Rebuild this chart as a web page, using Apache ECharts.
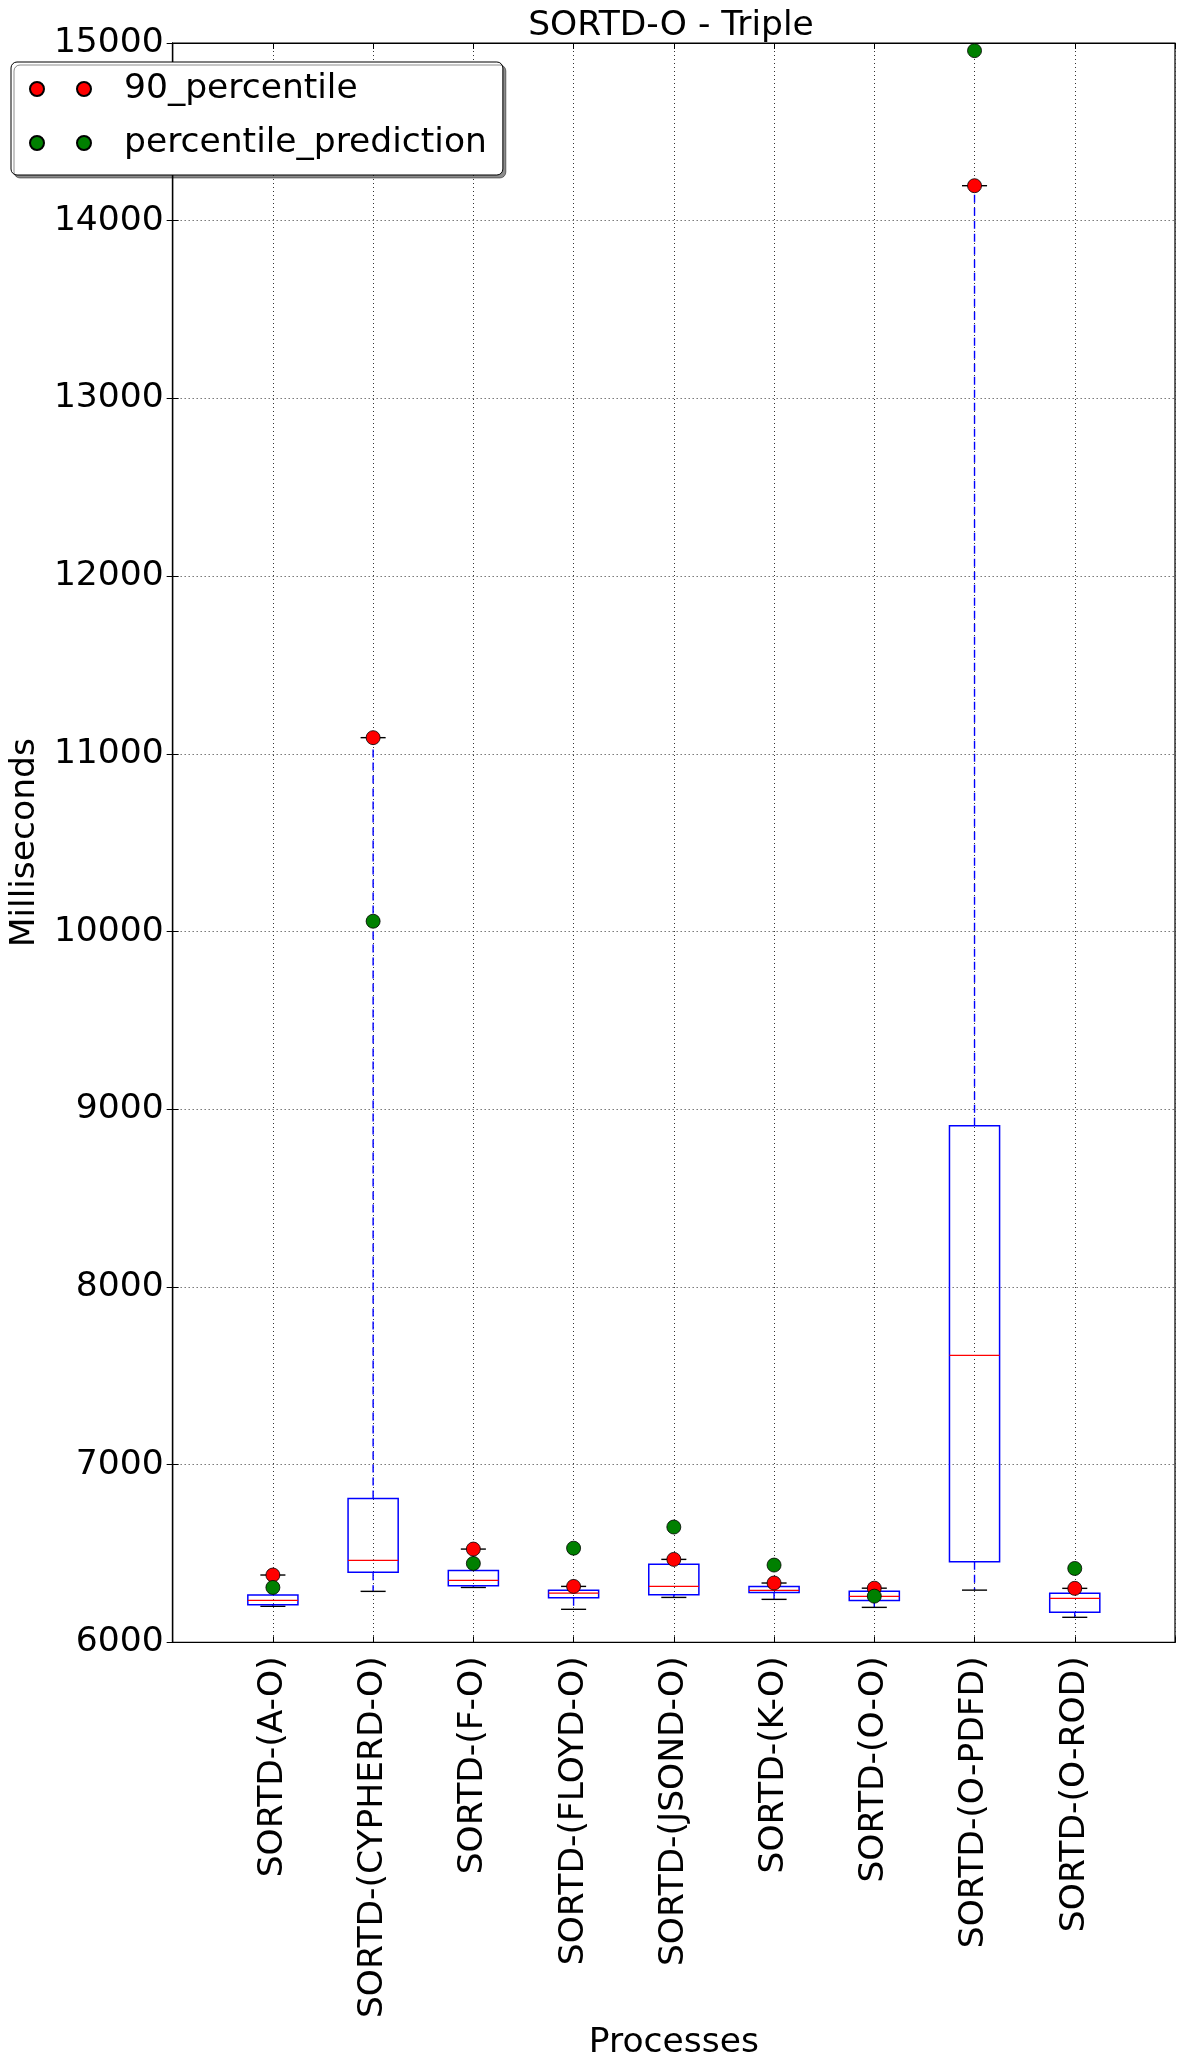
<!DOCTYPE html>
<html>
<head>
<meta charset="utf-8">
<script src="https://cdn.jsdelivr.net/npm/echarts@6/dist/echarts.min.js"></script>
<style>
html,body{margin:0;padding:0;background:#fff;}
#chart{width:1184px;height:2066px;}
</style>
</head>
<body>
<div id="chart"></div>
<script>
const categories = ['SORTD-(A-O)', 'SORTD-(CYPHERD-O)', 'SORTD-(F-O)', 'SORTD-(FLOYD-O)', 'SORTD-(JSOND-O)', 'SORTD-(K-O)', 'SORTD-(O-O)', 'SORTD-(O-PDFD)', 'SORTD-(O-ROD)'];
const whiskerLow = [6203, 6287, 6309, 6186, 6253, 6242, 6197, 6294, 6141];
const q1 = [6212, 6394, 6318, 6251, 6268, 6281, 6236, 6453, 6169];
const median = [6236, 6461, 6349, 6277, 6315, 6293, 6259, 7615, 6248];
const q3 = [6266, 6810, 6405, 6294, 6440, 6315, 6287, 8907, 6277];
const whiskerHigh = [6379, 11091, 6525, 6315, 6467, 6334, 6305, 14197, 6304];
const percentile90 = [6379, 11091, 6525, 6315, 6467, 6334, 6305, 14197, 6304];
const prediction = [6309, 10058, 6444, 6530, 6649, 6435, 6260, 14957, 6416];
const yTicks = [6000, 7000, 8000, 9000, 10000, 11000, 12000, 13000, 14000, 15000];

const FONT = 'DejaVu Sans';
const FS = 34.5;
const boxData = categories.map((c, i) => [i + 1, whiskerLow[i], q1[i], median[i], q3[i], whiskerHigh[i]]);
const redData = categories.map((c, i) => [i + 1, percentile90[i]]);
const greenData = categories.map((c, i) => [i + 1, prediction[i]]);

const TWO_DOTS = 'path://M0,7a7,7 0 1,0 14,0a7,7 0 1,0 -14,0M47,7a7,7 0 1,0 14,0a7,7 0 1,0 -14,0Z';

function renderBox(params, api) {
  const x = api.value(0);
  const pLow = api.coord([x, api.value(1)]);
  const pQ1 = api.coord([x, api.value(2)]);
  const pMed = api.coord([x, api.value(3)]);
  const pQ3 = api.coord([x, api.value(4)]);
  const pHigh = api.coord([x, api.value(5)]);
  const halfBox = api.size([0.5, 0])[0] / 2;
  const halfCap = api.size([0.25, 0])[0] / 2;
  const cx = pMed[0];
  const blue = '#0000ff';
  const whiskerStyle = {stroke: blue, lineWidth: 1.4, lineDash: [8, 5]};
  return {
    type: 'group',
    children: [
      {type: 'line', shape: {x1: cx, y1: pQ1[1], x2: cx, y2: pLow[1]}, style: whiskerStyle},
      {type: 'line', shape: {x1: cx, y1: pQ3[1], x2: cx, y2: pHigh[1]}, style: whiskerStyle},
      {type: 'line', shape: {x1: cx - halfCap, y1: pLow[1], x2: cx + halfCap, y2: pLow[1]}, style: {stroke: '#000', lineWidth: 1.4}},
      {type: 'line', shape: {x1: cx - halfCap, y1: pHigh[1], x2: cx + halfCap, y2: pHigh[1]}, style: {stroke: '#000', lineWidth: 1.4}},
      {type: 'rect', shape: {x: cx - halfBox, y: pQ3[1], width: halfBox * 2, height: pQ1[1] - pQ3[1]}, style: {fill: 'none', stroke: blue, lineWidth: 1.5}},
      {type: 'line', shape: {x1: cx - halfBox, y1: pMed[1], x2: cx + halfBox, y2: pMed[1]}, style: {stroke: '#ff0000', lineWidth: 1.2}}
    ]
  };
}

const chart = echarts.init(document.getElementById('chart'));
chart.setOption({
  backgroundColor: '#ffffff',
  animation: false,
  textStyle: {fontFamily: FONT},
  title: {
    text: 'SORTD-O - Triple',
    left: 671, top: 9, textAlign: 'center', padding: 0,
    textStyle: {fontFamily: FONT, fontSize: FS, fontWeight: 'normal', color: '#000'}
  },
  legend: {
    orient: 'vertical',
    left: 11, top: 62,
    padding: [7, 16, 12, 18],
    itemGap: 14,
    itemWidth: 61, itemHeight: 14,
    backgroundColor: '#fff',
    borderColor: '#000', borderWidth: 1, borderRadius: 6,
    shadowColor: 'rgba(0,0,0,0.45)', shadowOffsetX: 3, shadowOffsetY: 3, shadowBlur: 0,
    icon: TWO_DOTS,
    textStyle: {fontFamily: FONT, fontSize: FS, color: '#000', lineHeight: 40, padding: [0, 0, 0, 28]},
    data: ['90_percentile', 'percentile_prediction']
  },
  grid: {left: 167, top: 43, width: 1008, height: 1600, show: true, borderColor: '#000', borderWidth: 1.2, containLabel: false},
  xAxis: [{
    type: 'value', min: 0, max: 10, interval: 1,
    name: 'Processes', nameLocation: 'middle', nameGap: 379,
    nameTextStyle: {fontFamily: FONT, fontSize: FS, color: '#000'},
    axisLine: {show: true, lineStyle: {color: '#000', width: 1.2}},
    axisTick: {show: true, inside: true, length: 6, lineStyle: {color: '#000'}},
    axisLabel: {
      show: true, rotate: 90, margin: 14, fontFamily: FONT, fontSize: FS, color: '#000',
      formatter: v => (v >= 1 && v <= categories.length ? categories[v - 1] : '')
    },
    splitLine: {show: true, lineStyle: {color: '#333', type: [1, 3], width: 1}}
  }, {
    type: 'value', position: 'top', min: 0, max: 10, interval: 1,
    axisLine: {show: true, lineStyle: {color: '#000', width: 1.2}},
    axisTick: {show: true, inside: true, length: 6, lineStyle: {color: '#000'}},
    axisLabel: {show: false}, splitLine: {show: false}
  }],
  yAxis: [{
    type: 'value', min: yTicks[0], max: yTicks[yTicks.length - 1], interval: 1000,
    name: 'Milliseconds', nameLocation: 'middle', nameGap: 108, nameRotate: 90,
    nameTextStyle: {fontFamily: FONT, fontSize: FS, color: '#000'},
    axisLine: {show: true, lineStyle: {color: '#000', width: 1.2}},
    axisTick: {show: true, inside: true, length: 6, lineStyle: {color: '#000'}},
    axisLabel: {fontFamily: FONT, fontSize: FS, color: '#000', margin: 9, formatter: v => String(v)},
    splitLine: {show: true, lineStyle: {color: '#333', type: [1, 3], width: 1}}
  }, {
    type: 'value', position: 'right', min: yTicks[0], max: yTicks[yTicks.length - 1], interval: 1000,
    axisLine: {show: true, lineStyle: {color: '#000', width: 1.2}},
    axisTick: {show: true, inside: true, length: 6, lineStyle: {color: '#000'}},
    axisLabel: {show: false}, splitLine: {show: false}
  }],
  series: [
    {
      type: 'custom', name: 'boxes', xAxisIndex: 0, yAxisIndex: 0,
      renderItem: renderBox, data: boxData,
      encode: {x: 0, y: [1, 2, 3, 4, 5]}, z: 2, silent: true
    },
    {
      type: 'scatter', name: '90_percentile', xAxisIndex: 0, yAxisIndex: 0,
      data: redData, symbol: 'circle', symbolSize: 14, z: 3,
      itemStyle: {color: '#ff0000', borderColor: '#000', borderWidth: 0.8, opacity: 1}
    },
    {
      type: 'scatter', name: 'percentile_prediction', xAxisIndex: 0, yAxisIndex: 0,
      data: greenData, symbol: 'circle', symbolSize: 14, z: 4,
      itemStyle: {color: '#008000', borderColor: '#000', borderWidth: 0.8, opacity: 1}
    }
  ]
});
</script>
</body>
</html>
